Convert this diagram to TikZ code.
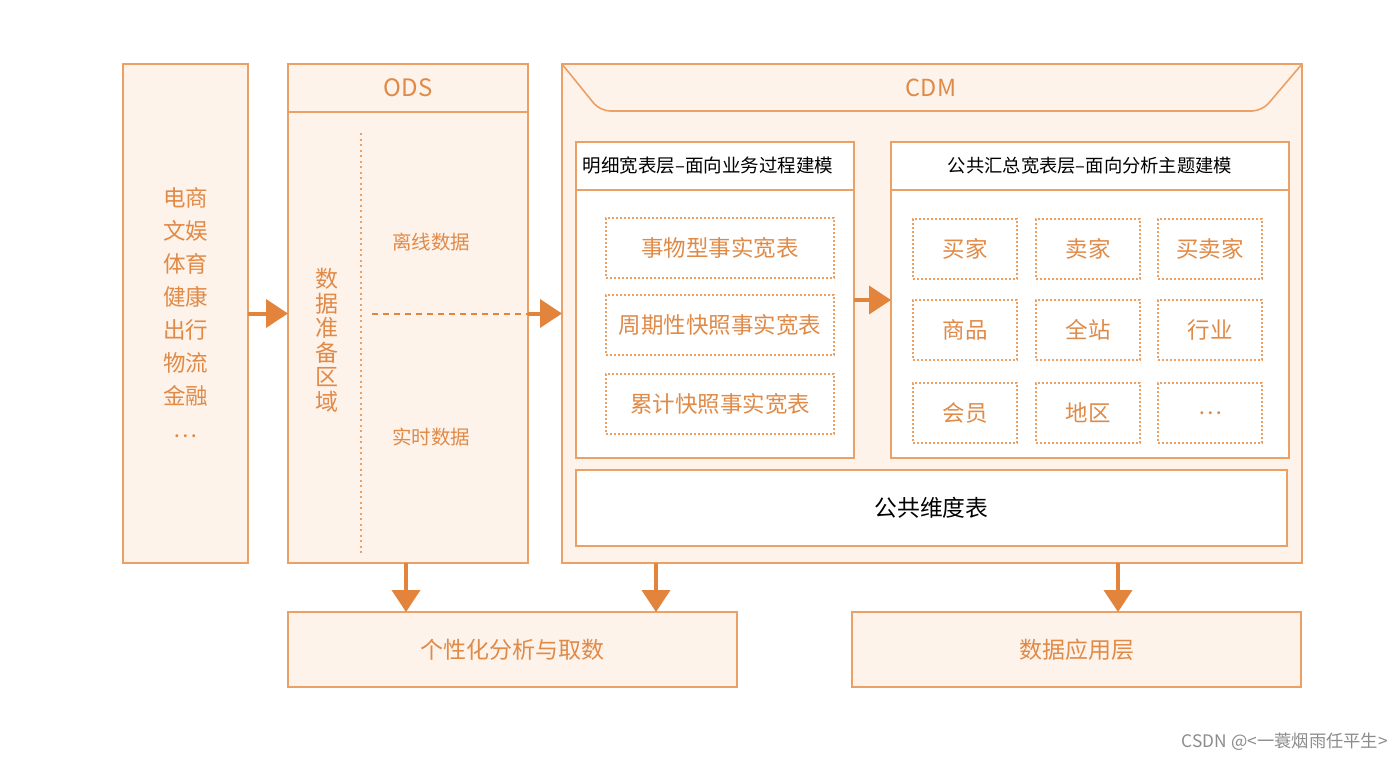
\documentclass[tikz,border=0pt]{standalone}
\usepackage{fontspec}
\setmainfont{Noto Sans CJK SC}
\usetikzlibrary{arrows.meta,calc}
\definecolor{org}{HTML}{E3843D}
\definecolor{bd}{HTML}{EBA066}
\definecolor{bg}{HTML}{FEF3EA}
\definecolor{txt}{HTML}{E08A48}
\tikzset{
  box/.style={draw=bd, fill=bg, line width=1.6pt, inner sep=0pt, outer sep=0pt},
  wbox/.style={draw=bd, fill=white, line width=1.6pt, inner sep=0pt, outer sep=0pt},
  dbox/.style={draw=bd, line width=1.3pt, dash pattern=on 2pt off 2pt, inner sep=0pt, outer sep=0pt, text=txt, font=\fontsize{22.5}{26}\selectfont},
  arr/.style={draw=org, line width=4pt, -{Triangle[length=22pt,width=28pt]}},
  lbl/.style={text=txt, inner sep=0pt},
}
\begin{document}
\begin{tikzpicture}[x=1pt,y=-1pt]
\useasboundingbox (0,0) rectangle (1400,758);
\fill[white] (0,0) rectangle (1400,758);
% main boxes
\node[box, minimum width=125, minimum height=499] (src) at (185.5,313.5) {};
\node[lbl, align=center, font=\fontsize{22.5}{33}\selectfont] (srct) at (185.5,313) {电商\\文娱\\体育\\健康\\出行\\物流\\金融\\…};
\node[box, minimum width=240, minimum height=499] (ods) at (408,313.5) {};
\node[box, minimum width=740, minimum height=499] (cdm) at (932,313.5) {};
% ODS header
\draw[bd, line width=1.6pt] ($(ods.north west)+(0,48)$) -- ($(ods.north east)+(0,48)$);
\node[lbl, font=\fontsize{24}{28}\selectfont] (odst) at (408,88) {ODS};
\draw[bd, line width=1.6pt, dash pattern=on 2pt off 3.5pt] (361,133) -- (361,556);
\node[lbl, align=center, font=\fontsize{23}{24.5}\selectfont] (prep) at (327,340) {数\\据\\准\\备\\区\\域};
\node[lbl, font=\fontsize{19.5}{22}\selectfont] (off) at (431,242) {离线数据};
\node[lbl, font=\fontsize{19.5}{22}\selectfont] (rt) at (431,437) {实时数据};
% CDM header
\draw[bd, line width=1.6pt, rounded corners=10pt] (cdm.north west) -- (600,111) -- (1262,111) -- (cdm.north east);
\node[lbl, font=\fontsize{23.5}{28}\selectfont] (cdmt) at (931,88) {CDM};
% inner boxes
\node[wbox, minimum width=278, minimum height=316] (lin) at (715,300) {};
\draw[bd, line width=1.6pt] ($(lin.north west)+(0,48)$) -- ($(lin.north east)+(0,48)$);
\node[inner sep=0pt, font=\fontsize{18.5}{22}\selectfont] (lint) at (708,166) {明细宽表层–面向业务过程建模};
\node[wbox, minimum width=398, minimum height=316] (rin) at (1090,300) {};
\draw[bd, line width=1.6pt] ($(rin.north west)+(0,48)$) -- ($(rin.north east)+(0,48)$);
\node[inner sep=0pt, font=\fontsize{18.3}{22}\selectfont] (rint) at (1090,166) {公共汇总宽表层–面向分析主题建模};
\node[wbox, minimum width=711, minimum height=76, font=\fontsize{22.8}{26}\selectfont] (dim) at (931.5,508) {公共维度表};
% dotted boxes left
\node[dbox, minimum width=228, minimum height=60] (f1) at (720,248) {事物型事实宽表};
\node[dbox, minimum width=228, minimum height=60] (f2) at (720,325) {周期性快照事实宽表};
\node[dbox, minimum width=228, minimum height=60] (f3) at (720,404) {累计快照事实宽表};
% grid
\node[dbox, minimum width=104, minimum height=60] (g11) at (965,249) {买家};
\node[dbox, minimum width=104, minimum height=60] (g12) at (1088,249) {卖家};
\node[dbox, minimum width=104, minimum height=60] (g13) at (1210,249) {买卖家};
\node[dbox, minimum width=104, minimum height=60] (g21) at (965,330) {商品};
\node[dbox, minimum width=104, minimum height=60] (g22) at (1088,330) {全站};
\node[dbox, minimum width=104, minimum height=60] (g23) at (1210,330) {行业};
\node[dbox, minimum width=104, minimum height=60] (g31) at (965,413) {会员};
\node[dbox, minimum width=104, minimum height=60] (g32) at (1088,413) {地区};
\node[dbox, minimum width=104, minimum height=60] (g33) at (1210,413) {…};
% bottom boxes
\node[box, minimum width=449, minimum height=75, text=txt, font=\fontsize{23}{26}\selectfont] (b1) at (512.5,649.5) {个性化分析与取数};
\node[box, minimum width=449, minimum height=75, text=txt, font=\fontsize{23}{26}\selectfont] (b2) at (1076.5,649.5) {数据应用层};
% connectors
\draw[arr] (src.east) -- (ods.west);
\coordinate (dstart) at (372,313.5);
\draw[org, line width=2pt, dash pattern=on 6pt off 5pt] (dstart) -- (ods.east);
\draw[arr] (ods.east) -- (cdm.west);
\draw[arr] (lin.east) -- (rin.west);
\coordinate (c0) at (406,563);
\coordinate (c1) at (656,563);
\coordinate (c2) at (1118,563);
\draw[arr] (c0) -- (c0 |- b1.north);
\draw[arr] (c1) -- (c1 |- b1.north);
\draw[arr] (c2) -- (c2 |- b2.north);
% watermark
\node[text=black!45, inner sep=0pt, anchor=east, font=\fontsize{17.3}{20}\selectfont] (wm) at (1388,742) {CSDN @<一蓑烟雨任平生>};
\end{tikzpicture}
\end{document}
